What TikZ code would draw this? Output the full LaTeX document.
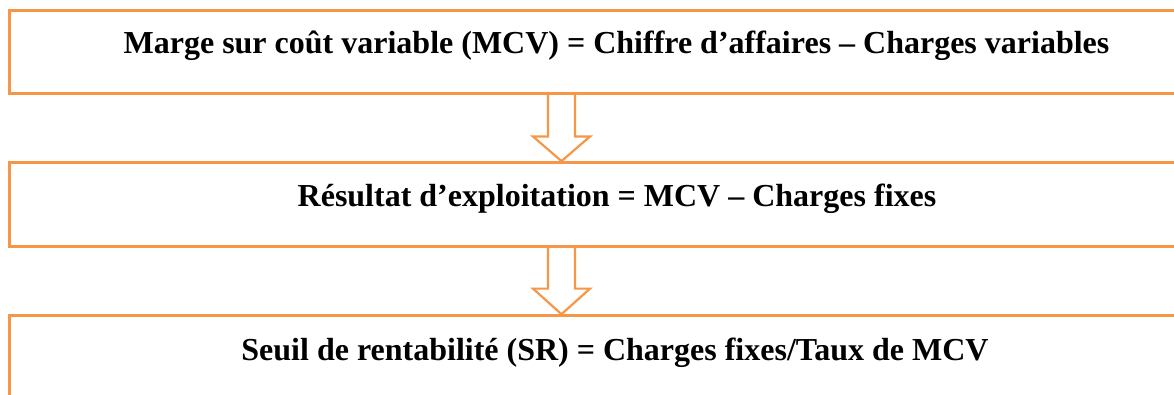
\documentclass[tikz,border=0pt]{standalone}
\usepackage{fontspec}
\setmainfont{Liberation Serif}
\usetikzlibrary{calc}
\definecolor{accent}{HTML}{F79646}
\tikzset{
  stepbox/.style={draw=accent, line width=3pt, fill=white, rectangle, inner sep=0pt},
  formula/.style={anchor=base, inner sep=0pt, font=\fontsize{32}{38}\selectfont\bfseries},
  blockarrow/.style={draw=accent, line width=2.2pt, fill=white, line join=miter}
}
\begin{document}
\begin{tikzpicture}[x=1pt,y=-1pt]
  \useasboundingbox (0,0) rectangle (1174,394);
  \clip (0,0) rectangle (1174,394);
  % the three boxes, running past the right edge
  \node[stepbox, minimum width=1213pt, minimum height=83pt] (b1) at (616,52) {};
  \node[stepbox, minimum width=1213pt, minimum height=84pt] (b2) at (616,204.6) {};
  \node[stepbox, minimum width=1213pt, minimum height=150pt] (b3) at (616,390.7) {};
  % hollow block arrows between the boxes
  \draw[blockarrow] ($(b1.south)+(-68,0)$) -- ($(b1.south)+(-68,41.5)$)
    -- ($(b1.south)+(-83,41.5)$) -- ($(b2.north)+(-54.5,0)$)
    -- ($(b1.south)+(-26,41.5)$) -- ($(b1.south)+(-41,41.5)$)
    -- ($(b1.south)+(-41,0)$);
  \draw[blockarrow] ($(b2.south)+(-68,0)$) -- ($(b2.south)+(-68,40.5)$)
    -- ($(b2.south)+(-83,40.5)$) -- ($(b3.north)+(-54.5,0)$)
    -- ($(b2.south)+(-26,40.5)$) -- ($(b2.south)+(-41,40.5)$)
    -- ($(b2.south)+(-41,0)$);
  % formulas
  \node[formula] (t1) at (616.5,53.3) {Marge sur coût variable (MCV) = Chiffre d’affaires – Charges variables};
  \node[formula] (t2) at (617,206.7) {Résultat d’exploitation = MCV – Charges fixes};
  \node[formula] (t3) at (615,360) {Seuil de rentabilité (SR) = Charges fixes/Taux de MCV};
\end{tikzpicture}
\end{document}
